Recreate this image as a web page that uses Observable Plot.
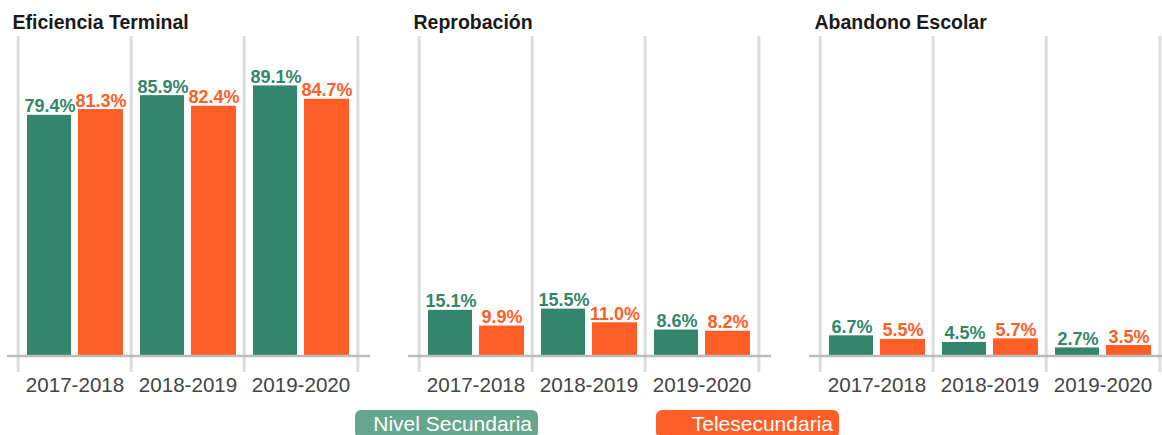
<!DOCTYPE html>
<html>
<head>
<meta charset="utf-8">
<script src="https://cdn.jsdelivr.net/npm/d3@7"></script>
<script src="https://cdn.jsdelivr.net/npm/@observablehq/plot@0.6"></script>
<style>
  body { margin: 0; background: #fff; font-family: "Liberation Sans", Arial, sans-serif; }
  #wrap { position: relative; width: 1162px; height: 435px; overflow: hidden; }
  .leg { position: absolute; top: 410px; width: 183px; height: 28px; border-radius: 6px;
         color: #fff; font-size: 21px; line-height: 28px; text-align: right; box-sizing: border-box; padding-right: 6px; }
</style>
</head>
<body>
<div id="wrap">
  <div id="chart"></div>
  <div class="leg" id="leg1" style="left:355px;"></div>
  <div class="leg" id="leg2" style="left:656px;"></div>
</div>
<script>
const indicators = ["Eficiencia Terminal", "Reprobación", "Abandono Escolar"];
const years = ["2017-2018", "2018-2019", "2019-2020"];
const seriesNames = ["Nivel Secundaria", "Telesecundaria"];
const nivelSecundaria = [
  [79.4, 85.9, 89.1],
  [15.1, 15.5, 8.6],
  [6.7, 4.5, 2.7]
];
const telesecundaria = [
  [81.3, 82.4, 84.7],
  [9.9, 11.0, 8.2],
  [5.5, 5.7, 3.5]
];
const colors = ["#33866b", "#ff5e27"];
const legendColors = ["#66a68e", "#ff5e27"];

const rows = [];
indicators.forEach((ind, i) => years.forEach((y, j) => {
  rows.push({ind, year: y, serie: seriesNames[0], value: nivelSecundaria[i][j]});
  rows.push({ind, year: y, serie: seriesNames[1], value: telesecundaria[i][j]});
}));
const green = rows.filter(d => d.serie === seriesNames[0]);
const orange = rows.filter(d => d.serie === seriesNames[1]);

const bw = 341 / 3;
const fmt = v => v.toFixed(1) + "%";

const chart = Plot.plot({
  width: 1162,
  height: 400,
  marginLeft: 17,
  marginRight: 2,
  marginTop: 36,
  marginBottom: 28,
  style: { fontFamily: "Liberation Sans, Arial, sans-serif", fontSize: "20.6px", color: "#444", background: "#fff" },
  fx: { domain: indicators, axis: null, paddingInner: 0.15, paddingOuter: 0 },
  x: { domain: years, padding: 0, tickSize: 0, tickPadding: 5, label: null },
  y: { domain: [-5.4, 105.4], axis: null },
  color: { domain: seriesNames, range: colors },
  marks: [
    Plot.ruleX(years, { x: d => d, dx: -bw / 2, stroke: "#dddddd", strokeWidth: 3 }),
    Plot.ruleX([years[years.length - 1]], { x: d => d, dx: bw / 2, stroke: "#dddddd", strokeWidth: 3 }),
    Plot.barY(green, { fx: "ind", x: "year", y1: 0, y2: "value", fill: "serie", insetLeft: 9, insetRight: 60 }),
    Plot.barY(orange, { fx: "ind", x: "year", y1: 0, y2: "value", fill: "serie", insetLeft: 60, insetRight: 8 }),
    Plot.ruleY([0], { stroke: "#bbbbbb", strokeWidth: 2.5, insetLeft: -10, insetRight: -12 }),
    Plot.text(green, { fx: "ind", x: "year", y: "value", text: d => fmt(d.value), dx: -25, dy: -3,
      lineAnchor: "bottom", fill: colors[0], fontWeight: "bold", fontSize: 18 }),
    Plot.text(orange, { fx: "ind", x: "year", y: "value", text: d => fmt(d.value), dx: 26, dy: -3,
      lineAnchor: "bottom", fill: colors[1], fontWeight: "bold", fontSize: 18 }),
    Plot.text(indicators, { fx: d => d, text: d => d, frameAnchor: "top-left", textAnchor: "start",
      lineAnchor: "bottom", dx: -5, dy: -8, fontWeight: "bold", fontSize: 19.5, fill: "#1a1a1a" })
  ]
});
document.getElementById("chart").appendChild(chart);

document.getElementById("leg1").textContent = seriesNames[0];
document.getElementById("leg1").style.background = legendColors[0];
document.getElementById("leg2").textContent = seriesNames[1];
document.getElementById("leg2").style.background = legendColors[1];
</script>
</body>
</html>
